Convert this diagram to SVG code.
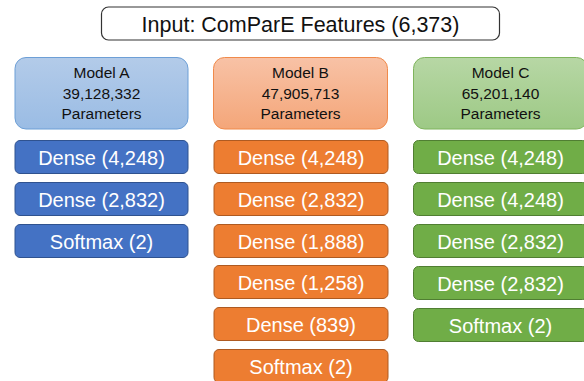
<svg xmlns="http://www.w3.org/2000/svg" width="584" height="381" viewBox="0 0 584 381">
<defs>
<linearGradient id="gA" x1="0" y1="0" x2="0" y2="1"><stop offset="0" stop-color="#b3cbe9"/><stop offset="1" stop-color="#9abce4"/></linearGradient>
<linearGradient id="gB" x1="0" y1="0" x2="0" y2="1"><stop offset="0" stop-color="#f8c2a6"/><stop offset="1" stop-color="#f4a679"/></linearGradient>
<linearGradient id="gC" x1="0" y1="0" x2="0" y2="1"><stop offset="0" stop-color="#b7d7a5"/><stop offset="1" stop-color="#9dc985"/></linearGradient>
<style>
text{font-family:"Liberation Sans",Arial,sans-serif;text-anchor:middle}
.hd{font-size:15.5px;fill:#111}
.dt{font-size:20px;fill:#fff}
.a{fill:#4472c4;stroke:#2f528f;stroke-width:1}
.b{fill:#ed7d31;stroke:#ae5a21;stroke-width:1}
.c{fill:#70ad47;stroke:#507e32;stroke-width:1}
</style>
</defs>
<g id="input">
<rect x="101.5" y="7" width="398" height="33" rx="7" fill="#fff" stroke="#333" stroke-width="1.2"/>
<text x="300.5" y="32" style="font-size:21.5px;fill:#111">Input: ComParE Features (6,373)</text>
</g>
<g id="modelA">
<rect x="15" y="57.5" width="173" height="71.5" rx="11" fill="url(#gA)" stroke="#6d9fd6" stroke-width="1"/>
<text class="hd" x="101.5" y="78">Model A</text>
<text class="hd" x="101.5" y="99">39,128,332</text>
<text class="hd" x="101.5" y="119">Parameters</text>
</g>
<g id="modelB">
<rect x="213.5" y="57.5" width="174" height="71.5" rx="11" fill="url(#gB)" stroke="#f08a4b" stroke-width="1"/>
<text class="hd" x="300.5" y="78">Model B</text>
<text class="hd" x="300.5" y="99">47,905,713</text>
<text class="hd" x="300.5" y="119">Parameters</text>
</g>
<g id="modelC">
<rect x="413.5" y="57.5" width="174" height="71.5" rx="11" fill="url(#gC)" stroke="#7fb45c" stroke-width="1"/>
<text class="hd" x="500.5" y="78">Model C</text>
<text class="hd" x="500.5" y="99">65,201,140</text>
<text class="hd" x="500.5" y="119">Parameters</text>
</g>
<g id="A1"><rect class="a" x="15" y="140.5" width="173" height="33" rx="5"/><text class="dt" x="101.5" y="164.5">Dense (4,248)</text></g>
<g id="A2"><rect class="a" x="15" y="182.5" width="173" height="33" rx="5"/><text class="dt" x="101.5" y="206.5">Dense (2,832)</text></g>
<g id="A3"><rect class="a" x="15" y="224.5" width="173" height="33" rx="5"/><text class="dt" x="101.5" y="248.5">Softmax (2)</text></g>
<g id="B1"><rect class="b" x="214" y="140.5" width="174" height="33" rx="5"/><text class="dt" x="301" y="164.5">Dense (4,248)</text></g>
<g id="B2"><rect class="b" x="214" y="182.5" width="174" height="33" rx="5"/><text class="dt" x="301" y="206.5">Dense (2,832)</text></g>
<g id="B3"><rect class="b" x="214" y="224.5" width="174" height="33" rx="5"/><text class="dt" x="301" y="248.5">Dense (1,888)</text></g>
<g id="B4"><rect class="b" x="214" y="265.5" width="174" height="33" rx="5"/><text class="dt" x="301" y="289.5">Dense (1,258)</text></g>
<g id="B5"><rect class="b" x="214" y="307.5" width="174" height="33" rx="5"/><text class="dt" x="301" y="331.5">Dense (839)</text></g>
<g id="B6"><rect class="b" x="214" y="349.5" width="174" height="33" rx="5"/><text class="dt" x="301" y="373.5">Softmax (2)</text></g>
<g id="C1"><rect class="c" x="413.5" y="140.5" width="174" height="33" rx="5"/><text class="dt" x="500.5" y="164.5">Dense (4,248)</text></g>
<g id="C2"><rect class="c" x="413.5" y="182.5" width="174" height="33" rx="5"/><text class="dt" x="500.5" y="206.5">Dense (4,248)</text></g>
<g id="C3"><rect class="c" x="413.5" y="224.5" width="174" height="33" rx="5"/><text class="dt" x="500.5" y="248.5">Dense (2,832)</text></g>
<g id="C4"><rect class="c" x="413.5" y="266.5" width="174" height="33" rx="5"/><text class="dt" x="500.5" y="290.5">Dense (2,832)</text></g>
<g id="C5"><rect class="c" x="413.5" y="308.5" width="174" height="33" rx="5"/><text class="dt" x="500.5" y="332.5">Softmax (2)</text></g>
<g id="connectors"></g>
</svg>
